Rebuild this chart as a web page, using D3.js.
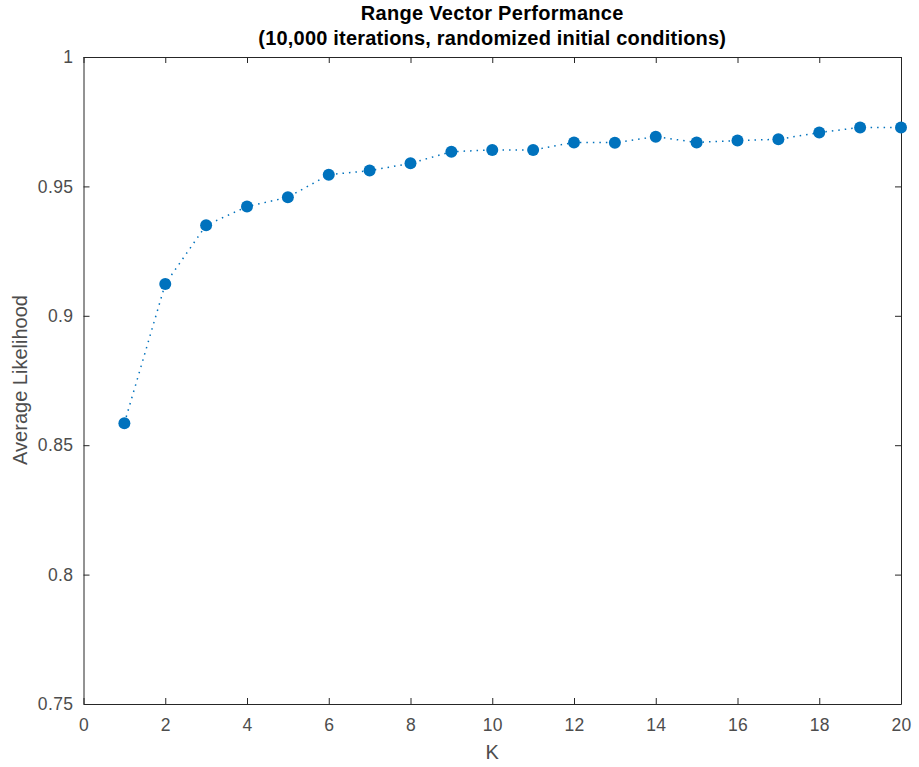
<!DOCTYPE html>
<html>
<head>
<meta charset="utf-8">
<script src="https://cdn.jsdelivr.net/npm/d3@7"></script>
<style>
  body { margin: 0; background: #fff; }
  svg { display: block; font-family: "Liberation Sans", Arial, sans-serif; }
</style>
</head>
<body>
<svg id="chart" width="919" height="767"></svg>
<script>
// Data
const kValues = [1, 2, 3, 4, 5, 6, 7, 8, 9, 10, 11, 12, 13, 14, 15, 16, 17, 18, 19, 20];
const likelihood = [0.8585, 0.9123, 0.9350, 0.9422, 0.9458, 0.9545, 0.9561, 0.9589, 0.9634, 0.9641,
                    0.9641, 0.9670, 0.9669, 0.9692, 0.9670, 0.9677, 0.9682, 0.9708, 0.9728, 0.9728];
const xTicks = [0, 2, 4, 6, 8, 10, 12, 14, 16, 18, 20];
const yTicks = [0.75, 0.8, 0.85, 0.9, 0.95, 1];
const titleLines = ["Range Vector Performance", "(10,000 iterations, randomized initial conditions)"];

const points = kValues.map((k, i) => ({ k, v: likelihood[i] }));

const svg = d3.select("#chart");
const box = { left: 83.5, right: 901, top: 57, bottom: 704 };
const axisColor = "#262626";
const labelColor = "#4d4d4d";
const blue = "#0072BD";

const x = d3.scaleLinear().domain([0, 20]).range([box.left, box.right]);
const y = d3.scaleLinear().domain([0.75, 1]).range([box.bottom, box.top]);

// axes with inward ticks (box on)
function styleAxis(g) {
  g.select(".domain").attr("stroke", axisColor).attr("stroke-width", 1);
  g.selectAll(".tick line").attr("stroke", axisColor).attr("stroke-width", 1);
  g.selectAll(".tick text").attr("fill", labelColor).attr("font-size", 17.5)
    .attr("letter-spacing", 0.4)
    .attr("font-family", "Liberation Sans, Arial, sans-serif");
}

svg.append("g").attr("transform", `translate(0,${box.bottom})`)
  .call(d3.axisBottom(x).tickValues(xTicks).tickSizeInner(-6).tickSizeOuter(0).tickPadding(15))
  .call(styleAxis);
svg.append("g").attr("transform", `translate(0,${box.top})`)
  .call(d3.axisTop(x).tickValues(xTicks).tickSizeInner(-6).tickSizeOuter(0).tickFormat(""))
  .call(styleAxis);
svg.append("g").attr("transform", `translate(${box.left},0)`)
  .call(d3.axisLeft(y).tickValues(yTicks).tickSizeInner(-6).tickSizeOuter(0).tickPadding(10)
    .tickFormat(d => d === 1 ? "1" : String(+d.toFixed(2))))
  .call(styleAxis);
svg.append("g").attr("transform", `translate(${box.right},0)`)
  .call(d3.axisRight(y).tickValues(yTicks).tickSizeInner(-6).tickSizeOuter(0).tickFormat(""))
  .call(styleAxis);

// dotted line
svg.append("path")
  .datum(points)
  .attr("fill", "none")
  .attr("stroke", blue)
  .attr("stroke-width", 1.5)
  .attr("stroke-dasharray", "1.5 5")
  .attr("d", d3.line().x(d => x(d.k)).y(d => y(d.v)));

// markers
svg.selectAll("circle.pt")
  .data(points)
  .join("circle")
  .attr("class", "pt")
  .attr("cx", d => x(d.k))
  .attr("cy", d => y(d.v))
  .attr("r", 6)
  .attr("fill", blue);

// title
const cx = (box.left + box.right) / 2;
svg.append("text")
  .attr("x", cx).attr("y", 20)
  .attr("text-anchor", "middle").attr("font-size", 20).attr("font-weight", "bold")
  .attr("letter-spacing", 0.3)
  .attr("fill", "#000").text(titleLines[0]);
svg.append("text")
  .attr("x", cx).attr("y", 44.5)
  .attr("text-anchor", "middle").attr("font-size", 20).attr("font-weight", "bold")
  .attr("letter-spacing", 0.2)
  .attr("fill", "#000").text(titleLines[1]);

// axis labels
svg.append("text")
  .attr("x", cx).attr("y", 759)
  .attr("text-anchor", "middle").attr("font-size", 20).attr("fill", labelColor)
  .text("K");
svg.append("text")
  .attr("transform", `translate(27,380) rotate(-90)`)
  .attr("text-anchor", "middle").attr("font-size", 20).attr("fill", labelColor)
  .text("Average Likelihood");
</script>
</body>
</html>
